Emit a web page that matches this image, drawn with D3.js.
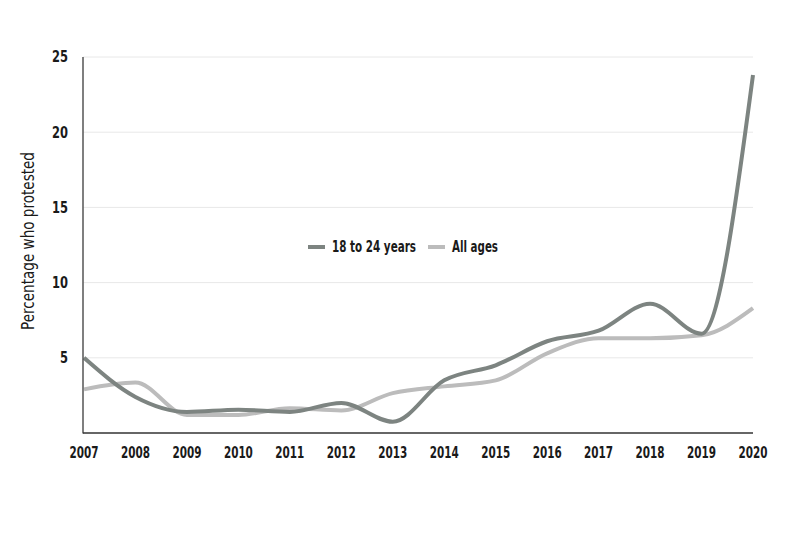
<!DOCTYPE html>
<html><head><meta charset="utf-8">
<script src="https://cdn.jsdelivr.net/npm/d3@7"></script>
<style>body{margin:0;background:#fff;}svg{display:block;}</style>
</head><body>
<svg id="c" width="800" height="533"></svg>
<script>
const years = [2007,2008,2009,2010,2011,2012,2013,2014,2015,2016,2017,2018,2019,2020];
const youth = [5.0,2.4,1.4,1.55,1.4,2.0,0.75,3.5,4.5,6.1,6.8,8.6,6.6,23.8];
const allAges = [2.9,3.35,1.2,1.2,1.65,1.5,2.65,3.1,3.5,5.3,6.3,6.3,6.5,8.3];
const yTicks = [5,10,15,20,25];
const seriesNames = ["18 to 24 years","All ages"];
const seriesColors = ["#7d8481","#bcbcbc"];

const font = "'DejaVu Sans Condensed','DejaVu Sans',sans-serif";
const svg = d3.select("#c");
const x = d3.scalePoint().domain(years).range([84,753]);
const y = d3.scaleLinear().domain([0,25]).range([433,57]);

// gridlines
svg.append("g").selectAll("line").data(yTicks).join("line")
  .attr("x1",83).attr("x2",753).attr("y1",d=>y(d)).attr("y2",d=>y(d))
  .attr("stroke","#e8e8e8").attr("stroke-width",1);

// y tick labels
svg.append("g").selectAll("text").data(yTicks).join("text")
  .attr("x",68).attr("y",d=>y(d)).attr("dy","0.36em").attr("text-anchor","end")
  .attr("font-family",font).attr("font-weight","bold").attr("font-size",15).attr("fill","#1a1a1a")
  .attr("textLength",d=>String(d).length*8).attr("lengthAdjust","spacingAndGlyphs")
  .text(d=>d);

// x tick labels
svg.append("g").selectAll("text").data(years).join("text")
  .attr("x",d=>x(d)).attr("y",458).attr("text-anchor","middle")
  .attr("font-family",font).attr("font-weight","bold").attr("font-size",15).attr("fill","#1a1a1a")
  .attr("textLength",29).attr("lengthAdjust","spacingAndGlyphs")
  .text(d=>d);

// y title
svg.append("text").attr("transform","translate(34,241) rotate(-90)").attr("text-anchor","middle")
  .attr("font-family",font).attr("font-size",17).attr("fill","#1a1a1a")
  .attr("textLength",178).attr("lengthAdjust","spacingAndGlyphs")
  .text("Percentage who protested");

// lines
const line = d3.line().x((d,i)=>x(years[i])).y(d=>y(d)).curve(d3.curveMonotoneX);
svg.append("path").datum(allAges).attr("d",line).attr("fill","none")
  .attr("stroke",seriesColors[1]).attr("stroke-width",4);
svg.append("path").datum(youth).attr("d",line).attr("fill","none")
  .attr("stroke",seriesColors[0]).attr("stroke-width",4);

// axes lines
svg.append("line").attr("x1",83).attr("x2",83).attr("y1",57).attr("y2",433.5)
  .attr("stroke","#555").attr("stroke-width",1.5);
svg.append("line").attr("x1",83).attr("x2",753).attr("y1",433).attr("y2",433)
  .attr("stroke","#333").attr("stroke-width",1.5);

// legend
const lg = [{x:308,tx:332,w:84},{x:428,tx:452,w:46}];
lg.forEach((p,i)=>{
  svg.append("line").attr("x1",p.x).attr("x2",p.x+17).attr("y1",247).attr("y2",247)
    .attr("stroke",seriesColors[i]).attr("stroke-width",4);
  svg.append("text").attr("x",p.tx).attr("y",247).attr("dy","0.36em")
    .attr("font-family",font).attr("font-weight","bold").attr("font-size",15).attr("fill","#1a1a1a")
    .attr("textLength",p.w).attr("lengthAdjust","spacingAndGlyphs")
    .text(seriesNames[i]);
});
</script>
</body></html>
